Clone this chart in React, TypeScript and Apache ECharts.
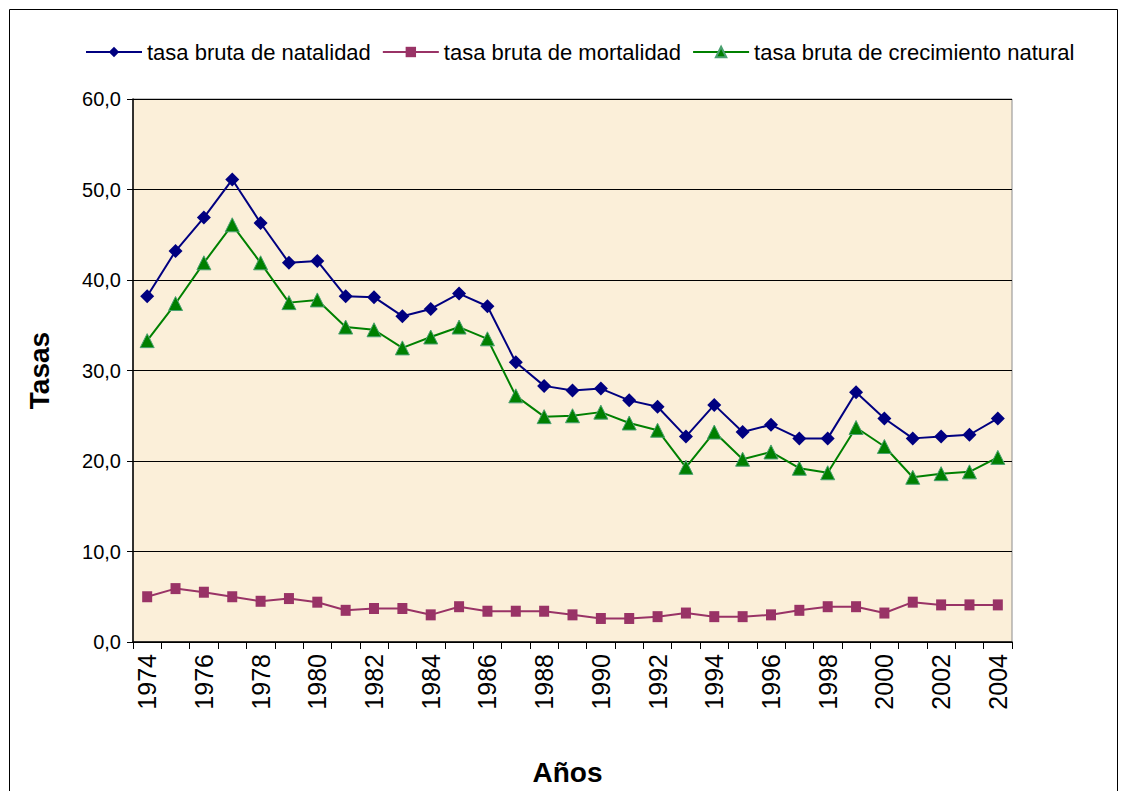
import React, { useEffect, useRef } from "react";
import * as echarts from "echarts";

const years = [
  "1974","1975","1976","1977","1978","1979","1980","1981","1982","1983",
  "1984","1985","1986","1987","1988","1989","1990","1991","1992","1993",
  "1994","1995","1996","1997","1998","1999","2000","2001","2002","2003","2004",
];
const natalidad = [
  38.2, 43.2, 46.9, 51.1, 46.3, 41.9, 42.1, 38.2, 38.1, 36.0,
  36.8, 38.5, 37.1, 30.9, 28.3, 27.8, 28.0, 26.7, 26.0, 22.7,
  26.2, 23.2, 24.0, 22.5, 22.5, 27.6, 24.7, 22.5, 22.7, 22.9, 24.7,
];
const mortalidad = [
  5.0, 5.9, 5.5, 5.0, 4.5, 4.8, 4.4, 3.5, 3.7, 3.7,
  3.0, 3.9, 3.4, 3.4, 3.4, 3.0, 2.6, 2.6, 2.8, 3.2,
  2.8, 2.8, 3.0, 3.5, 3.9, 3.9, 3.2, 4.4, 4.1, 4.1, 4.1,
];
const crecimiento = [
  33.3, 37.4, 41.9, 46.1, 41.9, 37.5, 37.8, 34.8, 34.5, 32.5,
  33.7, 34.8, 33.5, 27.2, 24.9, 25.0, 25.4, 24.2, 23.4, 19.3,
  23.2, 20.2, 21.0, 19.2, 18.7, 23.7, 21.6, 18.2, 18.6, 18.8, 20.4,
];
const seriesNames = [
  "tasa bruta de natalidad",
  "tasa bruta de mortalidad",
  "tasa bruta de crecimiento natural",
];

const FONT = "Liberation Sans, Arial, sans-serif";

export default function App() {
  const ref = useRef<HTMLDivElement>(null);
  useEffect(() => {
    if (!ref.current) return;
    const chart = echarts.init(ref.current, null, { renderer: "svg" });
    chart.setOption({
      animation: false,
      backgroundColor: "#ffffff",
      graphic: [
        {
          type: "rect",
          shape: { x: 9.5, y: 9.5, width: 1108, height: 800 },
          style: { fill: "none", stroke: "#000", lineWidth: 1 },
          z: -1,
        },
      ],
      legend: {
        top: 36,
        left: 80,
        itemWidth: 56,
        itemHeight: 13,
        itemGap: 11,
        textStyle: { fontFamily: FONT, fontSize: 22, color: "#000" },
        data: seriesNames,
      },
      grid: {
        left: 133,
        right: 109,
        top: 99,
        bottom: 148,
        show: true,
        backgroundColor: "#FBEFD9",
        borderColor: "#8c8c8c",
        borderWidth: 1,
      },
      xAxis: {
        type: "category",
        data: years,
        boundaryGap: true,
        name: "Años",
        nameLocation: "middle",
        nameGap: 116,
        nameTextStyle: {
          fontFamily: FONT,
          fontSize: 28,
          fontWeight: "bold",
          color: "#000",
          padding: [0, 10, 0, 0],
        },
        axisLine: { lineStyle: { color: "#000", width: 1.5 } },
        axisTick: { show: true, interval: 0, length: 7, lineStyle: { color: "#000" } },
        axisLabel: {
          interval: 1,
          rotate: 90,
          margin: 12,
          fontFamily: FONT,
          fontSize: 25,
          color: "#000",
        },
        splitLine: { show: false },
      },
      yAxis: {
        type: "value",
        min: 0,
        max: 60,
        interval: 10,
        name: "Tasas",
        nameLocation: "middle",
        nameGap: 80,
        nameTextStyle: { fontFamily: FONT, fontSize: 28, fontWeight: "bold", color: "#000" },
        axisLine: { show: true, lineStyle: { color: "#000", width: 1.5 } },
        axisTick: { show: true, length: 6, lineStyle: { color: "#000" } },
        axisLabel: {
          margin: 12,
          fontFamily: FONT,
          fontSize: 20,
          color: "#000",
          formatter: (v: number) => v.toFixed(1).replace(".", ","),
        },
        splitLine: { show: true, lineStyle: { color: "#000", width: 1 } },
      },
      series: [
        {
          name: seriesNames[0],
          type: "line",
          data: natalidad,
          symbol: "diamond",
          symbolSize: 14,
          lineStyle: { color: "#000080", width: 2 },
          itemStyle: { color: "#000080" },
        },
        {
          name: seriesNames[1],
          type: "line",
          data: mortalidad,
          symbol: "rect",
          symbolSize: [10, 11],
          lineStyle: { color: "#993366", width: 2 },
          itemStyle: { color: "#993366" },
        },
        {
          name: seriesNames[2],
          type: "line",
          data: crecimiento,
          symbol: "triangle",
          symbolSize: 14,
          lineStyle: { color: "#008000", width: 2 },
          itemStyle: { color: "#008000", borderColor: "#4aa070", borderWidth: 1 },
        },
      ],
    });
    return () => chart.dispose();
  }, []);
  return <div ref={ref} style={{ width: 1121, height: 791, position: "absolute", left: 0, top: 0 }} />;
}
